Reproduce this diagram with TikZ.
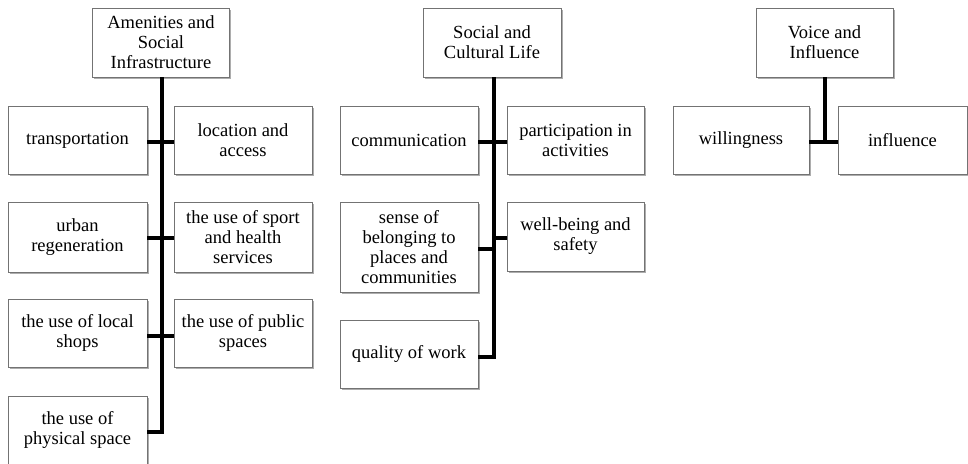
\documentclass[tikz,border=0pt]{standalone}
\usepackage{fontspec}
\setmainfont{Liberation Serif}
\usetikzlibrary{shadows}
\tikzset{
  box/.style={draw=black!55, line width=0.7pt, fill=white, align=center,
    minimum width=137pt, minimum height=68pt, inner sep=0pt,
    font=\fontsize{18.5}{20}\selectfont,
    drop shadow={shadow xshift=1.8pt, shadow yshift=-1.8pt, fill=black!40, opacity=0.8}},
  conn/.style={line width=3.2pt, black}
}
\begin{document}
\begin{tikzpicture}[x=1pt,y=-1pt]
\useasboundingbox (0,0) rectangle (968,463);
\fill[white] (0,0) rectangle (968,463);
% group 1
\node[box, minimum height=69pt] (A) at (161,42.5) {Amenities and\\Social\\Infrastructure};
\node[box, minimum width=139pt] (trans) at (77.5,140) {transportation};
\node[box, minimum width=138pt] (loc) at (243,140) {location and\\access};
\node[box, minimum width=139pt, minimum height=70pt] (urban) at (77.5,237) {urban\\regeneration};
\node[box, minimum width=138pt, minimum height=70pt] (sport) at (243,237) {the use of sport\\and health\\services};
\node[box, minimum width=139pt] (shops) at (77.5,333) {the use of local\\shops};
\node[box, minimum width=138pt] (public) at (243,333) {the use of public\\spaces};
\node[box, minimum width=139pt] (phys) at (77.5,430) {the use of\\physical space};
\coordinate (t1) at (162,77);
\draw[conn] (t1) -- (t1 |- 0,432) -- (phys.east |- 0,432);
\draw[conn] (trans.east |- 0,142) -- (loc.west |- 0,142);
\draw[conn] (urban.east |- 0,238) -- (sport.west |- 0,238);
\draw[conn] (shops.east |- 0,336) -- (public.west |- 0,336);
% group 2
\node[box, minimum width=138pt, minimum height=69pt] (S) at (492,42.5) {Social and\\Cultural Life};
\node[box, minimum width=138pt] (comm) at (409,140) {communication};
\node[box, minimum width=137pt] (part) at (575.5,140) {participation in\\activities};
\node[box, minimum width=138pt, minimum height=90pt] (belong) at (409,247) {sense of\\belonging to\\places and\\communities};
\node[box, minimum width=137pt, minimum height=69pt] (well) at (575.5,236.5) {well-being and\\safety};
\node[box, minimum width=138pt] (quality) at (409,354) {quality of work};
\coordinate (t2) at (494,77);
\draw[conn] (t2) -- (t2 |- 0,357) -- (quality.east |- 0,357);
\draw[conn] (comm.east |- 0,142) -- (part.west |- 0,142);
\draw[conn] (belong.east |- 0,249) -- (t2 |- 0,249);
\draw[conn] (t2 |- 0,238) -- (well.west |- 0,238);
% group 3
\node[box, minimum width=137pt, minimum height=69pt] (V) at (824.5,42.5) {Voice and\\Influence};
\node[box, minimum width=136pt] (will) at (741,140) {willingness};
\node[box, minimum width=129pt] (infl) at (902.5,140) {influence};
\coordinate (t3) at (825,77);
\draw[conn] (t3) -- (t3 |- 0,142);
\draw[conn] (will.east |- 0,142) -- (infl.west |- 0,142);
\end{tikzpicture}
\end{document}
